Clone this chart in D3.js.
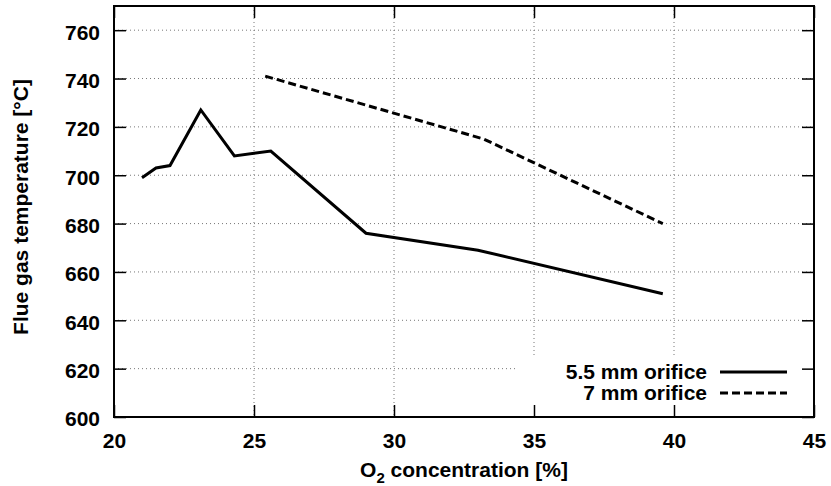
<!DOCTYPE html>
<html>
<head>
<meta charset="utf-8">
<script src="https://cdn.jsdelivr.net/npm/d3@7"></script>
<style>
  body { margin: 0; background: #fff; }
  text { font-family: "Liberation Sans", Arial, sans-serif; font-weight: bold; }
</style>
</head>
<body>
<script>
// values
var seriesNames = ["5.5 mm orifice", "7 mm orifice"];
var o2Small = [21.0, 21.5, 22.0, 23.1, 24.3, 25.6, 29.0, 33.0, 39.6];
var tempSmall = [699, 703, 704, 727, 708, 710, 676, 669, 651];
var o2Big = [25.4, 33.2, 39.6];
var tempBig = [741, 715, 680];
var xTicks = [20, 25, 30, 35, 40, 45];
var yTicks = [600, 620, 640, 660, 680, 700, 720, 740, 760];

var width = 831, height = 486;
var margin = {top: 6, right: 17, bottom: 69, left: 114};
var w = width - margin.left - margin.right;
var h = height - margin.top - margin.bottom;
var fs = 21;

var svg = d3.select("body").append("svg")
	.attr("width", width)
	.attr("height", height);

var g = svg.append("g")
	.attr("transform", "translate(" + margin.left + "," + margin.top + ")");

var x = d3.scaleLinear().domain([20, 45]).range([0, w]);
var y = d3.scaleLinear().domain([600, 770]).range([h, 0]);

// dotted grid
g.append("g").selectAll("line")
	.data(xTicks.slice(1, -1))
	.enter().append("line")
	.attr("x1", function(d) { return x(d); })
	.attr("x2", function(d) { return x(d); })
	.attr("y1", 0).attr("y2", h)
	.attr("stroke", "#777").attr("stroke-width", 1)
	.attr("stroke-dasharray", "1,3");

g.append("g").selectAll("line")
	.data(yTicks.slice(1))
	.enter().append("line")
	.attr("x1", 0).attr("x2", w)
	.attr("y1", function(d) { return y(d); })
	.attr("y2", function(d) { return y(d); })
	.attr("stroke", "#777").attr("stroke-width", 1)
	.attr("stroke-dasharray", "1,3");

// legend box hides the grid under it
g.append("rect")
	.attr("x", 403).attr("y", 352)
	.attr("width", w - 403).attr("height", h - 352)
	.attr("fill", "#fff");

// axes, ticks inward, mirrored
function tickOnly(axis) {
	return function(sel) {
		sel.call(axis);
		sel.select(".domain").remove();
		sel.selectAll(".tick line").attr("stroke-width", 1.5);
	};
}

g.append("g")
	.attr("transform", "translate(0," + h + ")")
	.call(tickOnly(d3.axisBottom(x).tickValues(xTicks).tickSizeInner(-12).tickPadding(16)))
	.selectAll("text").attr("font-size", fs);

g.append("g")
	.call(tickOnly(d3.axisTop(x).tickValues(xTicks).tickSizeInner(-12).tickFormat("")));

g.append("g")
	.call(tickOnly(d3.axisLeft(y).tickValues(yTicks).tickSizeInner(-12).tickPadding(14)))
	.selectAll("text").attr("font-size", fs).attr("dy", "0.42em");

g.append("g")
	.attr("transform", "translate(" + w + ",0)")
	.call(tickOnly(d3.axisRight(y).tickValues(yTicks).tickSizeInner(-12).tickFormat("")));

g.selectAll(".tick text")
	.attr("font-family", "Liberation Sans, Arial, sans-serif")
	.attr("font-weight", "bold")
	.attr("fill", "#000");

g.append("rect")
	.attr("width", w).attr("height", h)
	.attr("fill", "none").attr("stroke", "#000").attr("stroke-width", 2);

// data lines
var line = d3.line()
	.x(function(d) { return x(d[0]); })
	.y(function(d) { return y(d[1]); });

var small = o2Small.map(function(v, i) { return [v, tempSmall[i]]; });
var big = o2Big.map(function(v, i) { return [v, tempBig[i]]; });

g.append("path").datum(small)
	.attr("d", line)
	.attr("fill", "none").attr("stroke", "#000").attr("stroke-width", 3);

g.append("path").datum(big)
	.attr("d", line)
	.attr("fill", "none").attr("stroke", "#000").attr("stroke-width", 3)
	.attr("stroke-dasharray", "8,4");

// legend
var legend = g.append("g").attr("transform", "translate(593,366)");
seriesNames.forEach(function(name, i) {
	legend.append("text")
		.attr("x", 0).attr("y", i * 21 + 6.5)
		.attr("text-anchor", "end")
		.attr("font-size", fs)
		.text(name);
	legend.append("line")
		.attr("x1", 13).attr("x2", 80)
		.attr("y1", i * 21).attr("y2", i * 21)
		.attr("stroke", "#000").attr("stroke-width", 3)
		.attr("stroke-dasharray", i === 0 ? null : "8,4");
});

// axis titles
var xt = svg.append("text")
	.attr("x", margin.left + w / 2).attr("y", 477)
	.attr("text-anchor", "middle")
	.attr("font-size", fs);
xt.append("tspan").text("O");
xt.append("tspan").attr("font-size", 15).attr("dy", 6).text("2");
xt.append("tspan").attr("dy", -6).text(" concentration [%]");

svg.append("text")
	.attr("transform", "translate(28,207) rotate(-90)")
	.attr("text-anchor", "middle")
	.attr("font-size", fs)
	.text("Flue gas temperature [°C]");
</script>
</body>
</html>
